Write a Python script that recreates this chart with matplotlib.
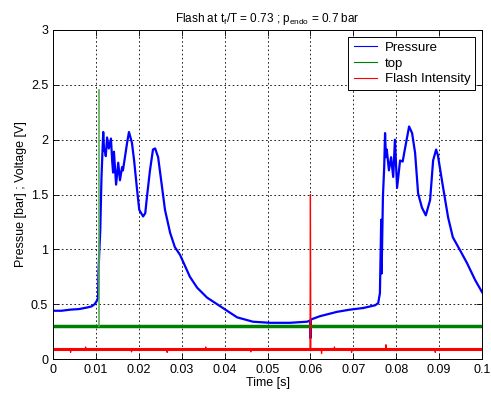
import matplotlib
matplotlib.use('Agg')
import matplotlib.pyplot as plt

plt.rcParams['font.family'] = ['Liberation Sans', 'DejaVu Sans']
plt.rcParams['mathtext.fontset'] = 'custom'
plt.rcParams['mathtext.rm'] = 'Liberation Sans'
plt.rcParams['mathtext.it'] = 'Liberation Sans'

# pressure trace [bar]
beat1_t = [0.0, 0.002, 0.004, 0.006, 0.008, 0.009, 0.0097, 0.0102, 0.0105, 0.0106,
           0.0108, 0.0110, 0.0113, 0.0117, 0.0119, 0.0121, 0.0123, 0.0126, 0.0130, 0.0135,
           0.0138, 0.0140, 0.0142, 0.0147, 0.0152, 0.0156, 0.0161, 0.0163, 0.0173, 0.0177,
           0.0184, 0.0189, 0.0196, 0.0201, 0.0210, 0.0215, 0.0219, 0.0226, 0.0233, 0.0238,
           0.0245, 0.0254, 0.0261, 0.0273, 0.0284, 0.0296, 0.0319, 0.0336]
beat1_p = [0.44, 0.44, 0.45, 0.455, 0.47, 0.48, 0.50, 0.53, 0.56, 0.80,
           0.99, 1.16, 1.66, 2.07, 1.90, 1.90, 1.85, 2.02, 1.92, 2.01,
           1.80, 1.70, 1.89, 1.59, 1.79, 1.63, 1.75, 1.72, 1.98, 2.07,
           1.97, 1.81, 1.54, 1.36, 1.30, 1.33, 1.48, 1.72, 1.91, 1.92,
           1.84, 1.57, 1.36, 1.15, 1.02, 0.95, 0.75, 0.65]

rest_t = [0.0359, 0.0396, 0.0429, 0.0466, 0.0506, 0.0552, 0.0592, 0.0599, 0.0600, 0.0601,
          0.0622, 0.0662, 0.0692, 0.0723, 0.0751, 0.0758]
rest_p = [0.56, 0.465, 0.38, 0.34, 0.33, 0.33, 0.34, 0.35, 0.19, 0.36,
          0.39, 0.43, 0.45, 0.465, 0.49, 0.51]

beat2_t = [0.0762, 0.0765, 0.0766, 0.0769, 0.0772, 0.0774, 0.0776, 0.0778, 0.0783, 0.0788,
           0.0793, 0.0797, 0.0802, 0.0809, 0.0815, 0.0821, 0.0830, 0.0837, 0.0844, 0.0851,
           0.0860, 0.0869, 0.0879, 0.0886, 0.0893, 0.0897, 0.0909, 0.0921, 0.0932, 0.0949,
           0.0965, 0.0984, 0.1]
beat2_p = [0.60, 1.27, 0.78, 1.48, 1.75, 2.06, 1.84, 1.91, 1.72, 1.84,
           1.66, 2.00, 1.56, 1.81, 1.80, 1.93, 2.12, 2.06, 1.88, 1.51,
           1.38, 1.31, 1.45, 1.81, 1.91, 1.86, 1.57, 1.29, 1.11, 0.99,
           0.875, 0.72, 0.61]

# "top" trigger signal
top_base = 0.30
top_peak = 2.45
top_time = 0.0107

# flash intensity [V]: baseline plus the spikes seen on it
flash_base = 0.09
flash_t = [0.0, 0.004, 0.0041, 0.0042, 0.0075, 0.0076, 0.0077, 0.0182, 0.0183, 0.0184,
           0.0265, 0.0266, 0.0267, 0.0355, 0.0356, 0.0357, 0.0460, 0.0461, 0.0462, 0.0599,
           0.0600, 0.0601, 0.0602, 0.0625, 0.0626, 0.0627, 0.0655, 0.0656, 0.0657, 0.0695,
           0.0696, 0.0697, 0.0775, 0.0776, 0.0777, 0.0890, 0.0891, 0.0892, 0.1]
flash_v = [0.09, 0.09, 0.06, 0.09, 0.09, 0.11, 0.09, 0.09, 0.065, 0.09,
           0.09, 0.06, 0.09, 0.09, 0.11, 0.09, 0.09, 0.065, 0.09, 0.09,
           1.50, 0.09, 0.09, 0.09, 0.05, 0.09, 0.09, 0.11, 0.09, 0.09,
           0.06, 0.09, 0.09, 0.13, 0.09, 0.09, 0.06, 0.09, 0.09]

pressure_t = beat1_t + rest_t + beat2_t
pressure_p = beat1_p + rest_p + beat2_p

fig = plt.figure(figsize=(4.91, 4.0), dpi=100)
ax = fig.add_axes([0.108, 0.1025, 0.8737, 0.8225])

ax.plot(pressure_t, pressure_p, color='#0000ff', lw=1.6)
ax.plot([flash_t[0], flash_t[-1]], [top_base, top_base], color='#008000', lw=2.5)
ax.plot([top_time, top_time], [top_base, top_peak], color='#55b055', lw=1.2)
ax.plot([flash_t[0], flash_t[-1]], [flash_base, flash_base], color='#ff0000', lw=2.2)
ax.plot(flash_t, flash_v, color='#ff0000', lw=0.9)

# legend entries with thin handles as in the original
ax.plot([], [], color='#0000ff', lw=0.8, label='Pressure')
ax.plot([], [], color='#008000', lw=0.8, label='top')
ax.plot([], [], color='#ff0000', lw=0.8, label='Flash Intensity')

ax.set_xlim(0, 0.1)
ax.set_ylim(0, 3)
xt = [i / 100 for i in range(11)]
ax.set_xticks(xt)
ax.set_xticklabels(['0'] + ['%.2f' % v for v in xt[1:-1]] + ['0.1'])
yt = [i / 2 for i in range(7)]
ax.set_yticks(yt)
ax.set_yticklabels(['0', '0.5', '1', '1.5', '2', '2.5', '3'])
ax.tick_params(direction='in', top=True, right=True, length=4, labelsize=9, width=0.6)
ax.grid(True, color='black', linestyle=(0, (2, 3)), lw=0.6)
for s in ax.spines.values():
    s.set_linewidth(0.7)

ax.set_xlabel('Time [s]', fontsize=9, labelpad=1)
ax.set_ylabel('Pressue [bar] ; Voltage [V]', fontsize=9, labelpad=3)
ax.set_title('Flash at t$_f$/T = 0.73 ; p$_{endo}$ = 0.7 bar', fontsize=8.5, pad=6)

leg = ax.legend(loc='upper right', fontsize=9.5, fancybox=False, framealpha=1,
                edgecolor='black', handlelength=1.75, handletextpad=0.6,
                borderaxespad=0.5, labelspacing=0.25, borderpad=0.4)
leg.get_frame().set_linewidth(0.7)

plt.savefig('out.png', dpi=100)
